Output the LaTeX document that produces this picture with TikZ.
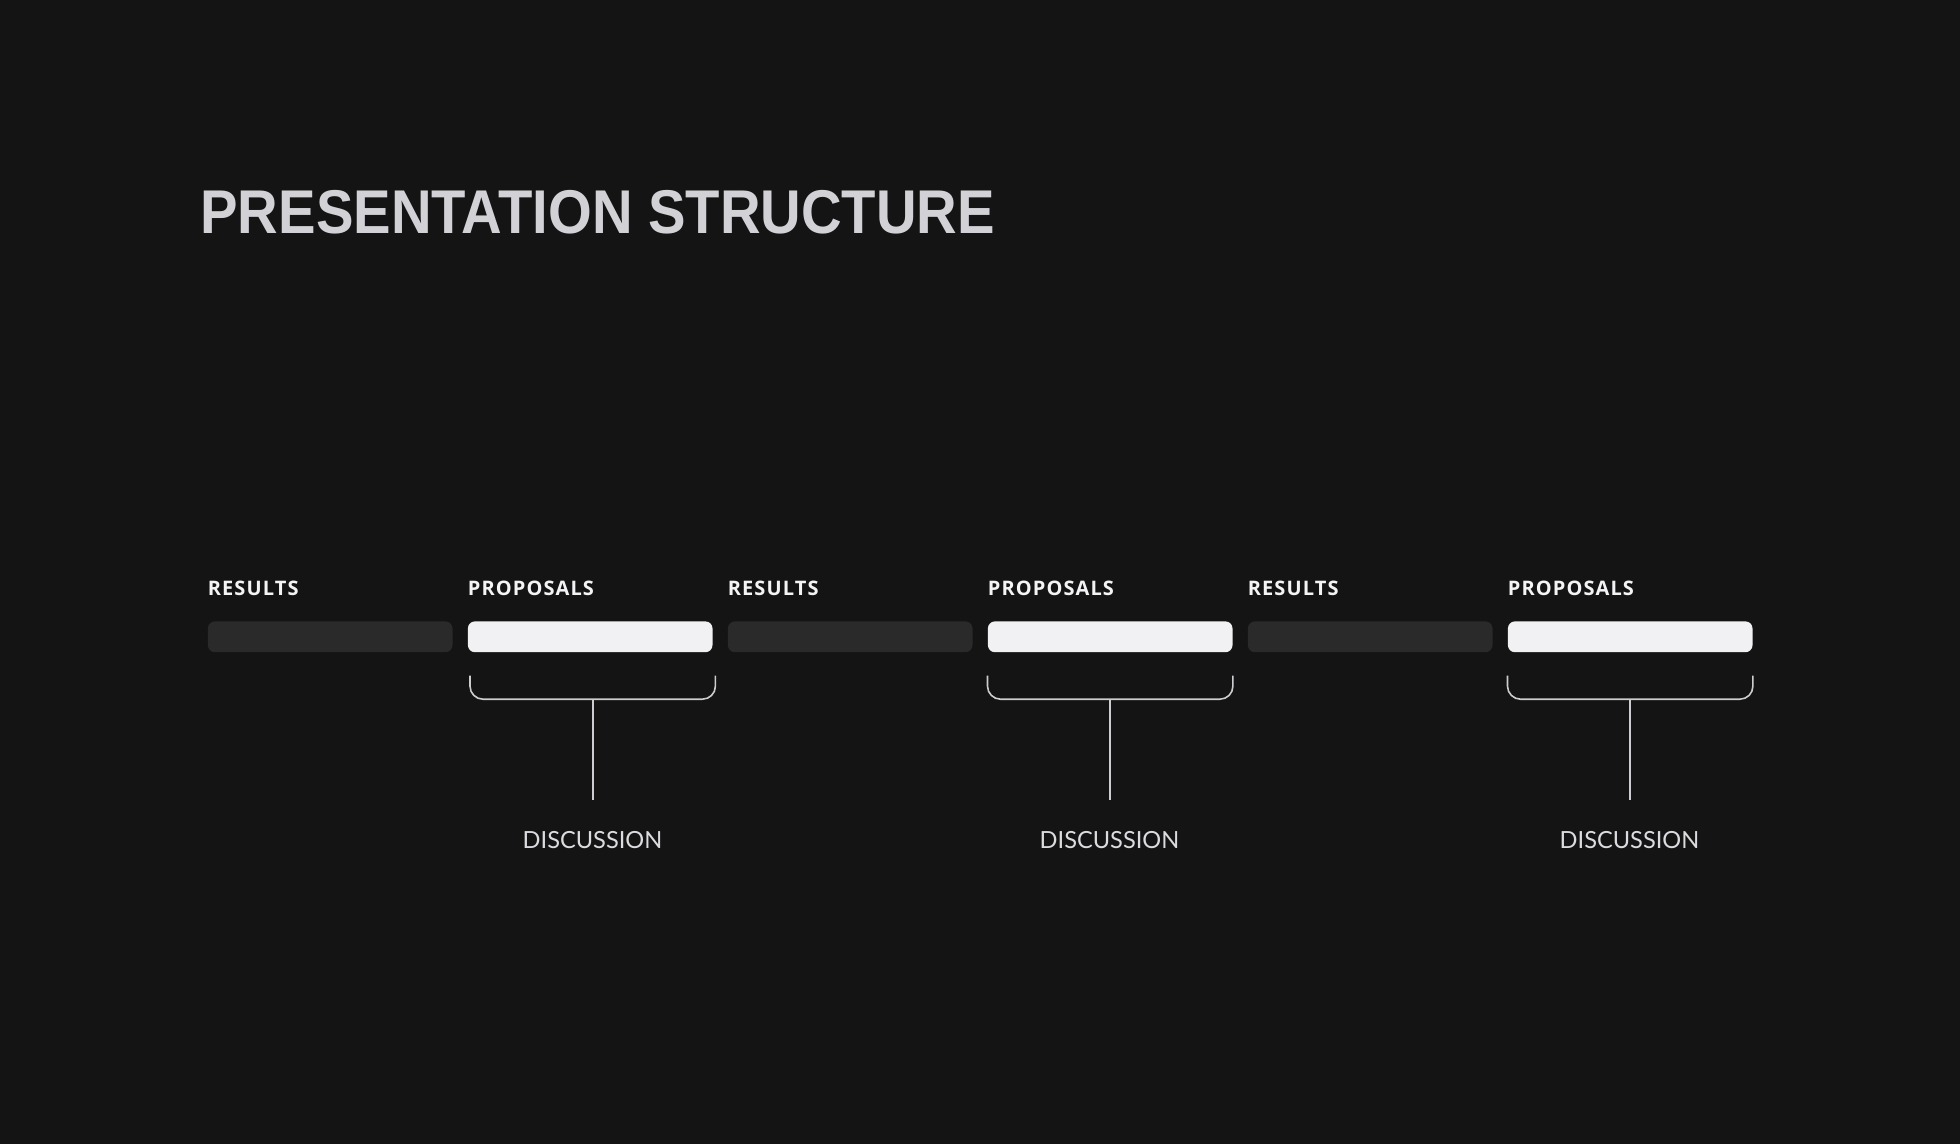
\documentclass[tikz,border=0pt]{standalone}
\usepackage{fontspec}
\usepackage{graphicx}
\usetikzlibrary{calc}
\newfontfamily\titlefont{Liberation Sans}
\newfontfamily\labfont[LetterSpace=5.5]{Open Sans}
\newfontfamily\discfont{Lato}
\definecolor{bg}{HTML}{141414}
\definecolor{darkbar}{HTML}{2A2A2A}
\definecolor{lightbar}{HTML}{F1F0F3}
\definecolor{titlecol}{HTML}{D2D2D6}
\definecolor{labcol}{HTML}{F4F4F6}
\definecolor{linecol}{HTML}{CDCDD1}
\definecolor{disccol}{HTML}{DCDCE0}
\tikzset{
  bar/.style={rectangle, rounded corners=3.5pt, inner sep=0pt, minimum width=122.3pt, minimum height=15.4pt, anchor=north west},
  darkbarbox/.style={bar, fill=darkbar},
  lightbarbox/.style={bar, fill=lightbar},
  lab/.style={anchor=base west, inner sep=0pt, text=labcol, font=\labfont\bfseries\fontsize{10pt}{12pt}\selectfont},
  disc/.style={anchor=base, inner sep=0pt, text=disccol, font=\discfont\fontsize{11.8pt}{14pt}\selectfont},
  brk/.style={draw=linecol, line width=0.8pt, rounded corners=6.5pt},
  stem/.style={draw=linecol, line width=0.8pt}
}
\begin{document}
\begin{tikzpicture}[x=0.5pt, y=-0.5pt]
\fill[bg] (0,0) rectangle (1960,1144);
\useasboundingbox (0,0) rectangle (1960,1144);
\node[anchor=base west, inner sep=0pt, text=titlecol, font=\titlefont\bfseries\fontsize{30.9pt}{36pt}\selectfont] (title) at (200,234) {\scalebox{0.91}[1]{PRESENTATION STRUCTURE}};
% bars
\node[darkbarbox]  (b1) at (207.5,621) {};
\node[lightbarbox] (b2) at (467.5,621) {};
\node[darkbarbox]  (b3) at (727.5,621) {};
\node[lightbarbox] (b4) at (987.5,621) {};
\node[darkbarbox]  (b5) at (1247.5,621) {};
\node[lightbarbox] (b6) at (1507.5,621) {};
% labels
\node[lab] (l1) at (207.5,596) {RESULTS};
\node[lab] (l2) at (467.5,596) {PROPOSALS};
\node[lab] (l3) at (727.5,596) {RESULTS};
\node[lab] (l4) at (987.5,596) {PROPOSALS};
\node[lab] (l5) at (1247.5,596) {RESULTS};
\node[lab] (l6) at (1507.5,596) {PROPOSALS};
% discussion labels
\node[disc] (d2) at (592.5,848) {DISCUSSION};
\node[disc] (d4) at (1109.5,848) {DISCUSSION};
\node[disc] (d6) at (1629.5,848) {DISCUSSION};
% brackets and stems
\foreach \b/\d/\dx in {b2/d2/2.5, b4/d4/0, b6/d6/0}{
  \coordinate (\b tl) at ([xshift=\dx*0.5pt, yshift=-11.5pt]\b.south west);
  \coordinate (\b tr) at ([xshift=\dx*0.5pt, yshift=-11.5pt]\b.south east);
  \coordinate (\b bl) at ([xshift=\dx*0.5pt, yshift=-23.3pt]\b.south west);
  \coordinate (\b br) at ([xshift=\dx*0.5pt, yshift=-23.3pt]\b.south east);
  \coordinate (\b m) at ($(\b bl)!0.5!(\b br)$);
  \path[brk] (\b tl) -- (\b bl) -- (\b br) -- (\b tr);
  \draw[stem] (\b m) -- ([yshift=15.3pt]\b m |- \d.north);
}
\end{tikzpicture}
\end{document}
